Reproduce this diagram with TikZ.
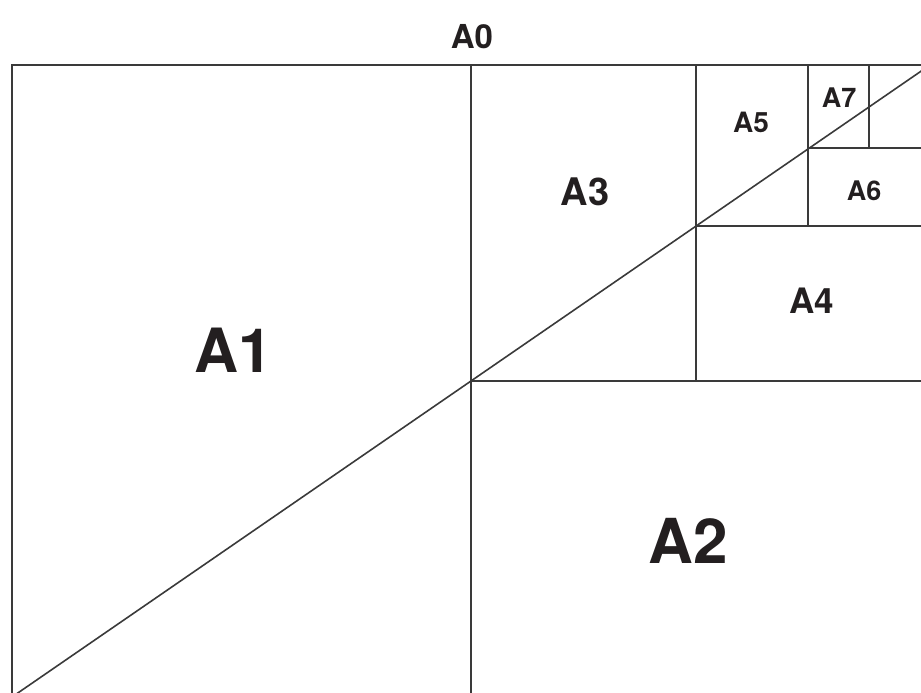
\documentclass[tikz,border=0pt]{standalone}
\usepackage{fontspec}
\setmainfont{TeX Gyre Heros}
\definecolor{ink}{HTML}{231F20}
\definecolor{rule}{HTML}{3A3A3A}

\begin{document}
\begin{tikzpicture}[x=1pt,y=-1pt,
  sheet/.style={line width=1.6pt,draw=rule},
  lbl/.style={text=ink,font=\bfseries,inner sep=0pt}]

\useasboundingbox (0,0) rectangle (921,693);

\begin{scope}
\clip (0,0) rectangle (921,693);

\draw[sheet] (12,65) rectangle (930,697);

\draw[sheet] (471,65) -- (471,697);
\draw[sheet] (471,381) -- (930,381);
\draw[sheet] (696,65) -- (696,381);
\draw[sheet] (696,226) -- (930,226);
\draw[sheet] (808,65) -- (808,226);
\draw[sheet] (808,148) -- (930,148);
\draw[sheet] (869,65) -- (869,148);

\draw[sheet] (12,697) -- (930,65);

\end{scope}

\node[lbl,font=\bfseries\fontsize{33}{33}\selectfont] at (472,37) {A0};
\node[lbl,font=\bfseries\fontsize{61}{61}\selectfont] at (233,350) {A1};
\node[lbl,font=\bfseries\fontsize{62}{62}\selectfont] at (688,541) {A2};
\node[lbl,font=\bfseries\fontsize{38}{38}\selectfont] at (585,192) {A3};
\node[lbl,font=\bfseries\fontsize{35}{35}\selectfont] at (812,301) {A4};
\node[lbl,font=\bfseries\fontsize{28}{28}\selectfont] at (751,122) {A5};
\node[lbl,font=\bfseries\fontsize{27}{27}\selectfont] at (864,191) {A6};
\node[lbl,font=\bfseries\fontsize{27}{27}\selectfont] at (839,98) {A7};

\end{tikzpicture}
\end{document}
